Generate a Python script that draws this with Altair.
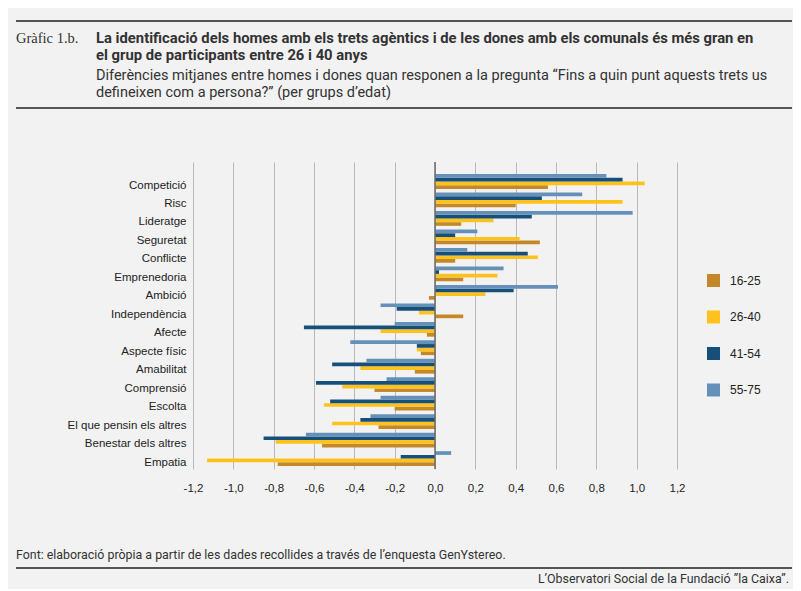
import altair as alt
import pandas as pd

categories = ["Competició", "Risc", "Lideratge", "Seguretat", "Conflicte", "Emprenedoria",
              "Ambició", "Independència", "Afecte", "Aspecte físic", "Amabilitat",
              "Comprensió", "Escolta", "El que pensin els altres", "Benestar dels altres", "Empatia"]
groups = ["16-25", "26-40", "41-54", "55-75"]
v_16_25 = [0.56, 0.40, 0.13, 0.52, 0.10, 0.14, -0.03, 0.14, -0.04, -0.07, -0.10, -0.30, -0.20, -0.28, -0.56, -0.78]
v_26_40 = [1.04, 0.93, 0.29, 0.42, 0.51, 0.31, 0.25, -0.08, -0.27, -0.09, -0.37, -0.46, -0.55, -0.51, -0.79, -1.13]
v_41_54 = [0.93, 0.53, 0.48, 0.10, 0.46, 0.02, 0.39, -0.19, -0.65, -0.09, -0.51, -0.59, -0.52, -0.37, -0.85, -0.17]
v_55_75 = [0.85, 0.73, 0.98, 0.21, 0.16, 0.34, 0.61, -0.27, -0.20, -0.42, -0.34, -0.24, -0.27, -0.32, -0.64, 0.08]
colors = ["#C4882A", "#FFC21C", "#16507A", "#6590B9"]
x_ticks = [-1.2, -1.0, -0.8, -0.6, -0.4, -0.2, 0.0, 0.2, 0.4, 0.6, 0.8, 1.0, 1.2]

label_text = "Gràfic 1.b."
title_lines = ["La identificació dels homes amb els trets agèntics i de les dones amb els comunals és més gran en",
               "el grup de participants entre 26 i 40 anys"]
subtitle_lines = ["Diferències mitjanes entre homes i dones quan responen a la pregunta “Fins a quin punt aquests trets us",
                  "defineixen com a persona?” (per grups d’edat)"]
source_text = "Font: elaboració pròpia a partir de les dades recollides a través de l’enquesta GenYstereo."
credit_text = "L’Observatori Social de la Fundació ”la Caixa”."

rows = []
for g, vals in zip(groups, [v_16_25, v_26_40, v_41_54, v_55_75]):
    for c, v in zip(categories, vals):
        rows.append({"cat": c, "group": g, "value": v})
df = pd.DataFrame(rows)

W, H = 484, 307

bars = alt.Chart(df).mark_bar().encode(
    x=alt.X("value:Q", scale=alt.Scale(domain=[-1.2, 1.2], nice=False, zero=False),
            axis=alt.Axis(values=x_ticks, title=None, grid=True, gridColor="#b9b9b9", gridWidth=1,
                          domain=False, ticks=False, labelPadding=13, labelFontSize=11.5,
                          labelFont="Liberation Sans", labelColor="#222222", labelFlush=False,
                          labelExpr="(datum.value < 0 ? '-' : '') + replace(format(abs(datum.value), '.1f'), '.', ',')")),
    y=alt.Y("cat:N", sort=categories,
            scale=alt.Scale(paddingInner=0.2, paddingOuter=0.41, align=0.8),
            axis=alt.Axis(title=None, ticks=False, domain=False, grid=False, labelPadding=7,
                          labelOffset=4, labelFontSize=11.5, labelFont="Liberation Sans",
                          labelColor="#222222")),
    yOffset=alt.YOffset("group:N", sort=["55-75", "41-54", "26-40", "16-25"],
                        scale=alt.Scale(paddingInner=0, paddingOuter=0)),
    color=alt.Color("group:N", scale=alt.Scale(domain=groups, range=colors),
                    legend=alt.Legend(title=None, orient="none", legendX=514, legendY=112,
                                      symbolType="square", symbolSize=169, symbolStrokeWidth=0,
                                      symbolOpacity=1, rowPadding=23.5, labelOffset=10,
                                      labelFontSize=12, labelFont="Liberation Sans",
                                      labelColor="#222222", padding=0)),
)

zero = alt.Chart(pd.DataFrame({"z": [0]})).mark_rule(color="#6b6b6b", strokeWidth=1.5).encode(
    x=alt.X("z:Q"), y=alt.value(0), y2=alt.value(H))


def txt(text, x, y, size, weight="normal", font="Roboto", align="left", color="#333333"):
    return alt.Chart(pd.DataFrame({"t": [text]})).mark_text(
        align=align, baseline="middle", fontSize=size, fontWeight=weight, font=font, color=color
    ).encode(text="t:N", x=alt.value(x), y=alt.value(y))


def hrule(y, color="#555555", w=2):
    return alt.Chart(pd.DataFrame({"r": [0]})).mark_rule(color=color, strokeWidth=w).encode(
        x=alt.value(-177), x2=alt.value(599), y=alt.value(y))


layers = [
    bars, zero,
    hrule(-141), hrule(-54), hrule(406),
    txt(label_text, -177, -123.5, 14.5, font="Liberation Serif"),
    txt(title_lines[0], -97, -123.5, 14.8, weight="bold"),
    txt(title_lines[1], -97, -106.5, 14.8, weight="bold"),
    txt(subtitle_lines[0], -97, -86, 14.5),
    txt(subtitle_lines[1], -97, -69, 14.5),
    txt(source_text, -177, 393, 12.4),
    txt(credit_text, 596, 417, 12.4, align="right"),
]

chart = alt.layer(*layers).properties(
    width=W, height=H,
    autosize=alt.AutoSizeParams(type="none"),
    padding={"left": 185, "top": 154, "right": 116, "bottom": 120},
    background="#F2F2F2",
).configure_view(stroke=None, fill="#F2F2F2")

chart.save("out.html", embed_options={"renderer": "svg", "actions": False})
